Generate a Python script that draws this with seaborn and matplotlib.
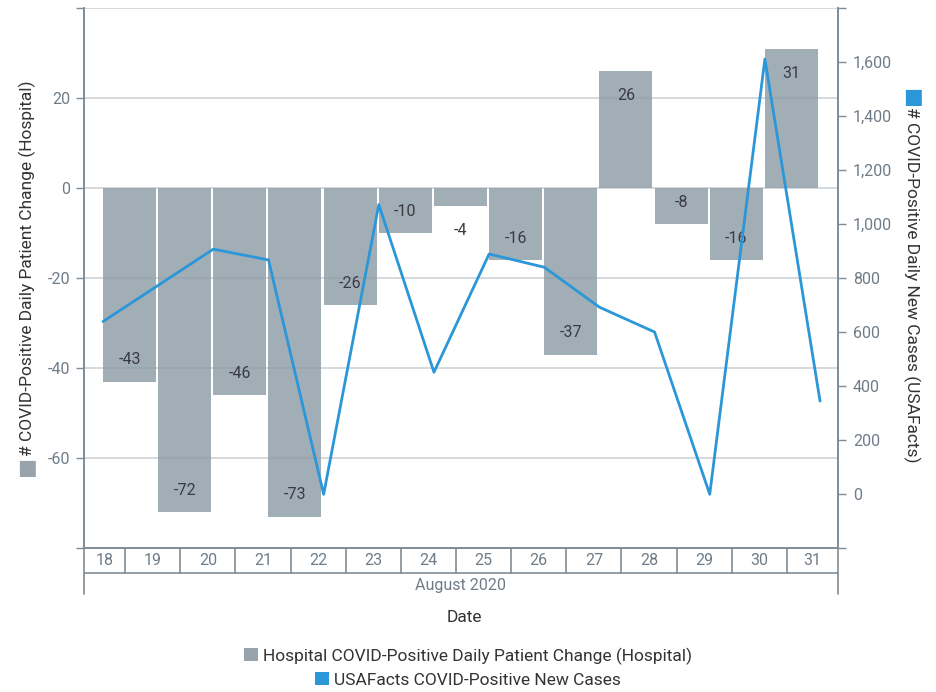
import matplotlib.pyplot as plt
import matplotlib.transforms as mtransforms
from matplotlib.patches import Patch
import seaborn as sns

# data
bar_days = [18, 19, 20, 21, 22, 23, 24, 25, 26, 27, 28, 29, 30]
bar_values = [-43, -72, -46, -73, -26, -10, -4, -16, -37, 26, -8, -16, 31]
case_days = [18, 20, 21, 22, 23, 24, 25, 26, 27, 28, 29, 30, 31]
case_values = [640, 908, 868, 0, 1073, 452, 890, 841, 693, 601, 0, 1612, 345]
day_labels = ['18', '19', '20', '21', '22', '23', '24', '25', '26', '27', '28', '29', '30', '31']
month_label = 'August 2020'

bar_name = 'Hospital COVID-Positive Daily Patient Change (Hospital)'
line_name = 'USAFacts COVID-Positive New Cases'
left_title = '# COVID-Positive Daily Patient Change (Hospital)'
right_title = '# COVID-Positive Daily New Cases (USAFacts)'

sns.set_style('white')
plt.rcParams['font.family'] = ['Roboto', 'DejaVu Sans']

bar_color = '#8d9ca6'
bar_legend = '#97a4ae'
line_color = '#2b96d8'
spine_color = '#7f8c97'
tick_color = '#6f7c88'
grid_color = '#c9d0d6'
text_color = '#333333'

fig = plt.figure(figsize=(9.36, 6.92), dpi=100)
ax = fig.add_axes([84 / 936, 1 - 548.3 / 692, 753.7 / 936, 540 / 692])
ax2 = ax.twinx()

# bars (left axis)
ax.bar(bar_days, bar_values, width=0.961, align='edge', color=bar_color,
       alpha=0.81, linewidth=0, zorder=2)
ax.set_axisbelow(True)
ax.yaxis.grid(True, color=grid_color, linewidth=1.1)
ax.xaxis.grid(False)

for d, v in zip(bar_days, bar_values):
    if v > 0:
        y = v - 5.4
    elif v <= -7:
        y = v + 4.94
    else:
        y = v - 5.4
    ax.text(d + 0.48, y, str(v), ha='center', va='center', fontsize=11.5,
            color='#3a3a44', zorder=3)

# line (right axis)
sns.lineplot(x=case_days, y=case_values, ax=ax2, color=line_color,
             linewidth=2.0, sort=False, legend=False)

ax.set_xlim(17.655, 31.32)
ax.set_ylim(-80, 40)
ax2.set_ylim(-200, 1800)

left_ticks = list(range(-80, 41, 20))
ax.set_yticks(left_ticks)
ax.set_yticklabels(['' if t in (-80, 40) else str(t) for t in left_ticks])
right_ticks = list(range(-200, 1801, 200))
ax2.set_yticks(right_ticks)
ax2.set_yticklabels(['' if t in (-200, 1800) else f'{t:,}' for t in right_ticks])

ax.set_xticks([])
ax2.set_xticks([])
ax.set_xlabel('')
ax.set_ylabel('')
ax2.set_ylabel('')

ax.tick_params(axis='y', left=True, length=6, width=1, color=spine_color,
               labelcolor=tick_color, labelsize=11.5, pad=4)
ax2.tick_params(axis='y', right=True, length=6, width=1, color=spine_color,
                labelcolor=tick_color, labelsize=11.5, pad=5)

for a in (ax, ax2):
    a.spines['top'].set_visible(False)
    for s in ('left', 'right', 'bottom'):
        a.spines[s].set_color(spine_color)
        a.spines[s].set_linewidth(1.2)

# grouped category axis below the plot
trans = mtransforms.blended_transform_factory(ax.transData, ax.transAxes)
row1 = -0.0452
row2 = -0.0846
edges = [ax.get_xlim()[0]] + [d + 0.40 for d in bar_days] + [ax.get_xlim()[1]]
for e in edges[1:-1]:
    ax.plot([e, e], [0, row1], transform=trans, clip_on=False,
            color=spine_color, linewidth=1.2)
ax.plot([0, 1], [row1, row1], transform=ax.transAxes, clip_on=False,
        color=spine_color, linewidth=1.2)
for xa in (0, 1):
    ax.plot([xa, xa], [0, row2], transform=ax.transAxes, clip_on=False,
            color=spine_color, linewidth=1.2)
for lab, e0, e1 in zip(day_labels, edges[:-1], edges[1:]):
    ax.text((e0 + e1) / 2, row1 / 2, lab, transform=trans, ha='center',
            va='center', fontsize=11.5, color=tick_color)
ax.text(0.5, -0.0695, month_label, transform=ax.transAxes, ha='center',
        va='center', fontsize=11.5, color=tick_color)
ax.text(0.505, -0.128, 'Date', transform=ax.transAxes, ha='center',
        va='center', fontsize=12.5, color=text_color)

# axis titles with coloured squares
fig.text(27 / 936, 1 - 456 / 692, left_title, rotation=90, ha='center',
         va='bottom', fontsize=12.5, color=text_color)
fig.text(27 / 936, 1 - 468 / 692, '\u25a0', ha='center', va='center',
         fontsize=15, color=bar_legend, family='DejaVu Sans')
fig.text(912 / 936, 1 - 107 / 692, right_title, rotation=270, ha='center',
         va='top', fontsize=12.5, color=text_color)
fig.text(913 / 936, 1 - 97 / 692, '\u25a0', ha='center', va='center',
         fontsize=15, color=line_color, family='DejaVu Sans')

# legend, one centred row per series
for name, col, ypx in ((bar_name, bar_legend, 656), (line_name, line_color, 680)):
    fig.legend(handles=[Patch(facecolor=col, edgecolor='none')], labels=[name],
               loc='center', bbox_to_anchor=(0.5, 1 - ypx / 692), frameon=False,
               handlelength=0.8, handleheight=0.8, handletextpad=0.3,
               fontsize=12.5, labelcolor=text_color, borderpad=0)

fig.savefig('out.png', dpi=100)
